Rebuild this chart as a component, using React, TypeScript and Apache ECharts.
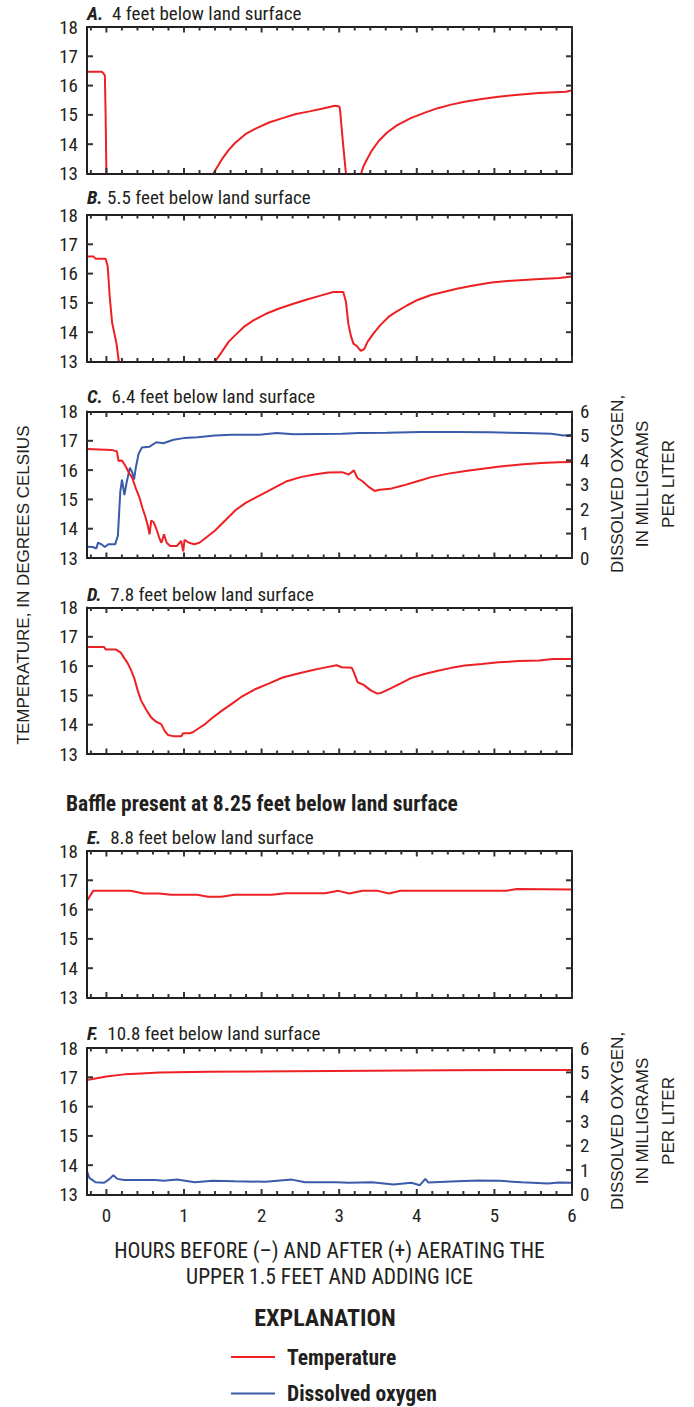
import React, { useEffect, useRef } from "react";
import * as echarts from "echarts";

const RED = "#ED2024";
const BLUE = "#3A5BA9";
const INK = "#231F20";
const TICK_COLOR = "#333333";
const COND = "'Liberation Sans Narrow', 'Roboto Condensed', 'DejaVu Sans Condensed', 'Arial Narrow', sans-serif";
const SANS = "'Liberation Sans', Arial, sans-serif";

const X_MIN = -0.25;
const X_MAX = 6;
const xMajorTicks = [0, 1, 2, 3, 4, 5, 6];
const xMinorTicks = [-0.2, 0.2, 0.4, 0.6, 0.8, 1.2, 1.4, 1.6, 1.8, 2.2, 2.4, 2.6, 2.8, 3.2, 3.4, 3.6, 3.8, 4.2, 4.4, 4.6, 4.8, 5.2, 5.4, 5.6, 5.8];
const tempTicks = [14, 15, 16, 17];
const doTicks = [1, 2, 3, 4, 5];

const panelTitles = [
  ["A.", "  4 feet below land surface"],
  ["B.", " 5.5 feet below land surface"],
  ["C.", "  6.4 feet below land surface"],
  ["D.", "  7.8 feet below land surface"],
  ["E.", "  8.8 feet below land surface"],
  ["F.", "  10.8 feet below land surface"],
];

const tempA = [
  [-0.25, 16.47], [-0.06, 16.47], [-0.04, 16.42], [-0.02, 16.35], [-0.01, 15.0], [0.0, 13.0], [0.02, 12.4], [1.34, 12.4],
  [1.378, 13.0], [1.487, 13.48], [1.574, 13.8], [1.661, 14.05], [1.791, 14.34], [1.922, 14.53], [2.096, 14.74], [2.27, 14.89],
  [2.443, 15.03], [2.617, 15.12], [2.791, 15.22], [2.943, 15.31], [3.0, 15.29], [3.01, 15.2], [3.05, 14.0], [3.087, 13.0],
  [3.1, 12.4], [3.26, 12.4], [3.283, 13.0], [3.313, 13.25], [3.357, 13.48], [3.422, 13.79], [3.509, 14.11], [3.617, 14.4],
  [3.748, 14.65], [3.922, 14.89], [4.096, 15.07], [4.27, 15.23], [4.443, 15.35], [4.617, 15.45], [4.835, 15.54], [5.052, 15.62],
  [5.27, 15.68], [5.574, 15.75], [5.922, 15.79], [6.0, 15.84],
];

const tempB = [
  [-0.25, 16.58], [-0.165, 16.58], [-0.14, 16.51], [-0.01, 16.51], [0.017, 16.24], [0.043, 15.21], [0.074, 14.32], [0.13, 13.61],
  [0.16, 13.0], [0.18, 12.4], [1.37, 12.4], [1.4, 13.0], [1.487, 13.33], [1.574, 13.67], [1.661, 13.9], [1.77, 14.18],
  [1.9, 14.41], [2.05, 14.62], [2.226, 14.81], [2.4, 14.96], [2.574, 15.11], [2.748, 15.24], [2.922, 15.37], [3.052, 15.37],
  [3.087, 15.04], [3.117, 14.3], [3.148, 13.9], [3.183, 13.61], [3.226, 13.53], [3.278, 13.36], [3.322, 13.42], [3.365, 13.67],
  [3.443, 13.96], [3.53, 14.24], [3.639, 14.53], [3.748, 14.72], [3.878, 14.92], [4.009, 15.1], [4.183, 15.27], [4.357, 15.38],
  [4.53, 15.49], [4.748, 15.6], [4.965, 15.7], [5.226, 15.76], [5.53, 15.81], [5.835, 15.85], [6.0, 15.9],
];

const tempC = [
  [-0.25, 16.72], [0.069, 16.69], [0.135, 16.64], [0.157, 16.31], [0.2, 16.33], [0.246, 16.14], [0.29, 15.91], [0.334, 15.73],
  [0.379, 15.38], [0.423, 15.09], [0.467, 14.69], [0.503, 14.4], [0.534, 14.1], [0.556, 13.81], [0.578, 14.28], [0.609, 14.22],
  [0.644, 13.99], [0.688, 13.64], [0.71, 13.52], [0.742, 13.81], [0.777, 13.52], [0.821, 13.41], [0.91, 13.41], [0.963, 13.58],
  [0.99, 13.23], [1.007, 13.62], [1.065, 13.52], [1.131, 13.47], [1.198, 13.52], [1.286, 13.7], [1.397, 13.93], [1.53, 14.28],
  [1.662, 14.63], [1.795, 14.88], [1.972, 15.13], [2.149, 15.38], [2.326, 15.62], [2.503, 15.76], [2.68, 15.85], [2.857, 15.92],
  [3.035, 15.93], [3.123, 15.85], [3.19, 15.99], [3.234, 15.73], [3.3, 15.62], [3.389, 15.41], [3.456, 15.29], [3.52, 15.33],
  [3.654, 15.36], [3.831, 15.48], [4.008, 15.62], [4.186, 15.76], [4.407, 15.88], [4.628, 15.97], [4.85, 16.05], [5.07, 16.12],
  [5.336, 16.19], [5.602, 16.24], [5.823, 16.27], [6.0, 16.28],
];

const doC = [
  [-0.25, 0.46], [-0.175, 0.45], [-0.13, 0.39], [-0.108, 0.63], [-0.064, 0.56], [-0.02, 0.45], [0.024, 0.56], [0.113, 0.56],
  [0.148, 0.91], [0.179, 2.72], [0.201, 3.21], [0.232, 2.58], [0.259, 3.07], [0.303, 3.7], [0.334, 3.49], [0.356, 3.21],
  [0.379, 3.7], [0.414, 4.26], [0.458, 4.53], [0.556, 4.56], [0.644, 4.74], [0.733, 4.7], [0.866, 4.84], [0.998, 4.91],
  [1.175, 4.95], [1.397, 5.02], [1.618, 5.05], [1.972, 5.05], [2.194, 5.12], [2.415, 5.07], [2.725, 5.08], [3.035, 5.09],
  [3.256, 5.12], [3.61, 5.13], [4.053, 5.16], [4.496, 5.16], [4.938, 5.15], [5.38, 5.12], [5.735, 5.09], [5.89, 5.02], [6.0, 5.05],
];

const tempD = [
  [-0.25, 16.65], [-0.03, 16.65], [-0.01, 16.57], [0.12, 16.57], [0.185, 16.46], [0.228, 16.28], [0.272, 16.11], [0.315, 15.88],
  [0.359, 15.59], [0.402, 15.18], [0.446, 14.83], [0.511, 14.52], [0.576, 14.25], [0.641, 14.1], [0.707, 14.02], [0.75, 13.79],
  [0.793, 13.65], [0.859, 13.61], [0.967, 13.61], [0.989, 13.71], [1.076, 13.71], [1.12, 13.75], [1.185, 13.87], [1.272, 14.02],
  [1.359, 14.22], [1.489, 14.48], [1.62, 14.72], [1.75, 14.97], [1.924, 15.22], [2.098, 15.41], [2.272, 15.61], [2.446, 15.73],
  [2.62, 15.84], [2.793, 15.94], [2.967, 16.03], [3.033, 15.96], [3.163, 15.94], [3.193, 15.76], [3.237, 15.45], [3.315, 15.36],
  [3.402, 15.18], [3.489, 15.06], [3.554, 15.1], [3.663, 15.24], [3.793, 15.41], [3.924, 15.59], [4.098, 15.73], [4.272, 15.84],
  [4.446, 15.94], [4.62, 16.02], [4.837, 16.07], [5.054, 16.13], [5.315, 16.17], [5.576, 16.19], [5.75, 16.24], [6.0, 16.24],
];

const tempE = [
  [-0.25, 16.3], [-0.17, 16.64], [0.31, 16.64], [0.48, 16.55], [0.68, 16.55], [0.83, 16.51], [1.17, 16.51], [1.31, 16.44],
  [1.48, 16.44], [1.65, 16.51], [2.13, 16.51], [2.31, 16.56], [2.82, 16.56], [2.99, 16.64], [3.13, 16.55], [3.3, 16.64],
  [3.5, 16.64], [3.64, 16.55], [3.79, 16.64], [5.15, 16.64], [5.29, 16.7], [6.0, 16.69],
];

const tempF = [
  [-0.25, 16.91], [0.0, 17.03], [0.23, 17.1], [0.45, 17.13], [0.68, 17.16], [1.31, 17.19], [2.39, 17.21], [4.38, 17.24], [6.0, 17.25],
];

const doF = [
  [-0.25, 0.95], [-0.22, 0.68], [-0.14, 0.5], [-0.03, 0.48], [0.03, 0.61], [0.09, 0.79], [0.14, 0.64], [0.23, 0.59],
  [0.46, 0.59], [0.63, 0.59], [0.74, 0.56], [0.91, 0.61], [1.14, 0.5], [1.37, 0.56], [1.65, 0.54], [2.05, 0.52],
  [2.39, 0.61], [2.56, 0.5], [2.96, 0.5], [3.13, 0.48], [3.42, 0.5], [3.7, 0.41], [3.93, 0.48], [4.04, 0.38],
  [4.11, 0.64], [4.15, 0.49], [4.44, 0.53], [4.78, 0.57], [5.07, 0.56], [5.35, 0.5], [5.69, 0.45], [5.83, 0.49], [6.0, 0.48],
];

const tempSeries = [tempA, tempB, tempC, tempD, tempE, tempF];
const doSeries: (number[][] | null)[] = [null, null, doC, null, null, doF];

const PLOT_LEFT = 87;
const PLOT_WIDTH = 485;
const panelTops = [27, 215, 411.5, 607.5, 851, 1048];
const PANEL_H = 146.5;
const titleY = [13.5, 197, 396.5, 594, 837.5, 1033.5];

export default function App() {
  const ref = useRef<HTMLDivElement>(null);
  useEffect(() => {
    if (!ref.current) return;
    const chart = echarts.init(ref.current, null, { renderer: "svg" });
    const grids: any[] = [];
    const xAxes: any[] = [];
    const yAxes: any[] = [];
    const series: any[] = [];
    for (let p = 0; p < 6; p++) {
      grids.push({ left: PLOT_LEFT, top: panelTops[p], width: PLOT_WIDTH, height: PANEL_H, containLabel: false });
      const isLast = p === 5;
      const hasDO = !!doSeries[p];
      const mkX = (position: string) => ({
        type: "value",
        gridIndex: p,
        position,
        min: X_MIN,
        max: X_MAX,
        axisLine: { show: true, onZero: false, lineStyle: { color: INK, width: 2 } },
        axisTick: { show: false },
        minorTick: { show: false },
        axisLabel: {
          show: isLast && position === "bottom",
          customValues: xMajorTicks,
          margin: 11,
          fontFamily: COND,
          fontSize: 19,
          color: INK,
        },
        splitLine: { show: false },
        z: 10,
      });
      xAxes.push(mkX("bottom"), mkX("top"));
      yAxes.push({
        type: "value",
        gridIndex: p,
        position: "left",
        min: 13,
        max: 18,
        interval: 1,
        axisLine: { show: true, onZero: false, lineStyle: { color: INK, width: 2 } },
        axisTick: { show: false },
        axisLabel: { show: true, margin: 9, fontFamily: COND, fontSize: 19, color: INK },
        splitLine: { show: false },
        z: 10,
      });
      yAxes.push({
        type: "value",
        gridIndex: p,
        position: "right",
        min: hasDO ? 0 : 13,
        max: hasDO ? 6 : 18,
        interval: 1,
        axisLine: { show: true, onZero: false, lineStyle: { color: INK, width: 2 } },
        axisTick: { show: false },
        axisLabel: { show: hasDO, margin: 8, fontFamily: COND, fontSize: 19, color: INK },
        splitLine: { show: false },
        z: 10,
      });
      if (hasDO) {
        series.push({
          type: "line",
          xAxisIndex: 2 * p,
          yAxisIndex: 2 * p + 1,
          data: doSeries[p],
          showSymbol: false,
          clip: true,
          lineStyle: { color: BLUE, width: 2 },
          itemStyle: { color: BLUE },
          z: 2,
        });
      }
      series.push({
        type: "line",
        xAxisIndex: 2 * p,
        yAxisIndex: 2 * p,
        data: tempSeries[p],
        showSymbol: false,
        clip: true,
        lineStyle: { color: RED, width: 2 },
        itemStyle: { color: RED },
        z: 3,
      });
    }

    chart.setOption({
      animation: false,
      backgroundColor: "#ffffff",
      grid: grids,
      xAxis: xAxes,
      yAxis: yAxes,
      series,
    });

    const graphic: any[] = [];
    const tickLine = (x1: number, y1: number, x2: number, y2: number) => ({
      type: "line",
      z: 100,
      silent: true,
      shape: { x1, y1, x2, y2 },
      style: { stroke: TICK_COLOR, lineWidth: 2 },
    });
    for (let p = 0; p < 6; p++) {
      const hasDO = !!doSeries[p];
      const toPx = (v: number[], yIdx: number) =>
        chart.convertToPixel({ xAxisIndex: 2 * p, yAxisIndex: yIdx } as any, v) as unknown as number[];
      const addX = (vals: number[], len: number) => {
        vals.forEach((v) => {
          const b = toPx([v, 13], 2 * p);
          const t = toPx([v, 18], 2 * p);
          graphic.push(tickLine(b[0], b[1], b[0], b[1] - len));
          graphic.push(tickLine(t[0], t[1], t[0], t[1] + len));
        });
      };
      addX(xMajorTicks, 5.5);
      addX(xMinorTicks, 3.5);
      tempTicks.forEach((v) => {
        const l = toPx([X_MIN, v], 2 * p);
        graphic.push(tickLine(l[0], l[1], l[0] + 6, l[1]));
        if (!hasDO) {
          const r = toPx([X_MAX, v], 2 * p);
          graphic.push(tickLine(r[0], r[1], r[0] - 6, r[1]));
        }
      });
      if (hasDO) {
        doTicks.forEach((v) => {
          const r = toPx([X_MAX, v], 2 * p + 1);
          graphic.push(tickLine(r[0], r[1], r[0] - 6, r[1]));
        });
      }
    }

    panelTitles.forEach((t, i) => {
      graphic.push({
        type: "text",
        x: PLOT_LEFT,
        y: titleY[i],
        style: {
          text: `{b|${t[0]}}${t[1]}`,
          fontFamily: COND,
          fontSize: 19,
          fill: INK,
          verticalAlign: "middle",
          rich: { b: { fontFamily: COND, fontSize: 19, fontWeight: "bold", fontStyle: "italic", fill: INK } },
        },
      });
    });
    graphic.push({
      type: "text",
      x: 66,
      y: 803.5,
      style: { text: "Baffle present at 8.25 feet below land surface", fontFamily: COND, fontSize: 21.5, fontWeight: "bold", fill: INK, verticalAlign: "middle" },
    });
    graphic.push({
      type: "text",
      x: 23,
      y: 585,
      rotation: Math.PI / 2,
      style: { text: "TEMPERATURE, IN DEGREES CELSIUS", fontFamily: SANS, fontSize: 17, fill: INK, align: "center", verticalAlign: "middle" },
    });
    const rightLines = ["DISSOLVED OXYGEN,", "IN MILLIGRAMS", "PER LITER"];
    const rightX = [617, 642, 668];
    [484, 1121].forEach((cy) => {
      rightLines.forEach((ln, k) => {
        graphic.push({
          type: "text",
          x: rightX[k],
          y: cy,
          rotation: Math.PI / 2,
          style: { text: ln, fontFamily: SANS, fontSize: 17, fill: INK, align: "center", verticalAlign: "middle" },
        });
      });
    });
    const xTitle = ["HOURS BEFORE (\u2013) AND AFTER (+) AERATING THE", "UPPER 1.5 FEET AND ADDING ICE"];
    [1250, 1276.5].forEach((y, k) => {
      graphic.push({
        type: "text",
        x: PLOT_LEFT + PLOT_WIDTH / 2,
        y,
        style: { text: xTitle[k], fontFamily: COND, fontSize: 21.5, fill: INK, align: "center", verticalAlign: "middle" },
      });
    });
    graphic.push({
      type: "text",
      x: 325,
      y: 1317.5,
      style: { text: "EXPLANATION", fontFamily: COND, fontSize: 24, fontWeight: "bold", fill: INK, align: "center", verticalAlign: "middle" },
    });
    const legendItems = [
      { name: "Temperature", color: RED, y: 1357 },
      { name: "Dissolved oxygen", color: BLUE, y: 1393.5 },
    ];
    legendItems.forEach((it) => {
      graphic.push({ type: "line", shape: { x1: 231, y1: it.y, x2: 275, y2: it.y }, style: { stroke: it.color, lineWidth: 2 } });
      graphic.push({
        type: "text",
        x: 287,
        y: it.y,
        style: { text: it.name, fontFamily: COND, fontSize: 21.5, fontWeight: "bold", fill: INK, verticalAlign: "middle" },
      });
    });

    chart.setOption({ graphic });
    return () => chart.dispose();
  }, []);
  return <div ref={ref} style={{ position: "absolute", left: 0, top: 0, width: 694, height: 1407 }} />;
}
